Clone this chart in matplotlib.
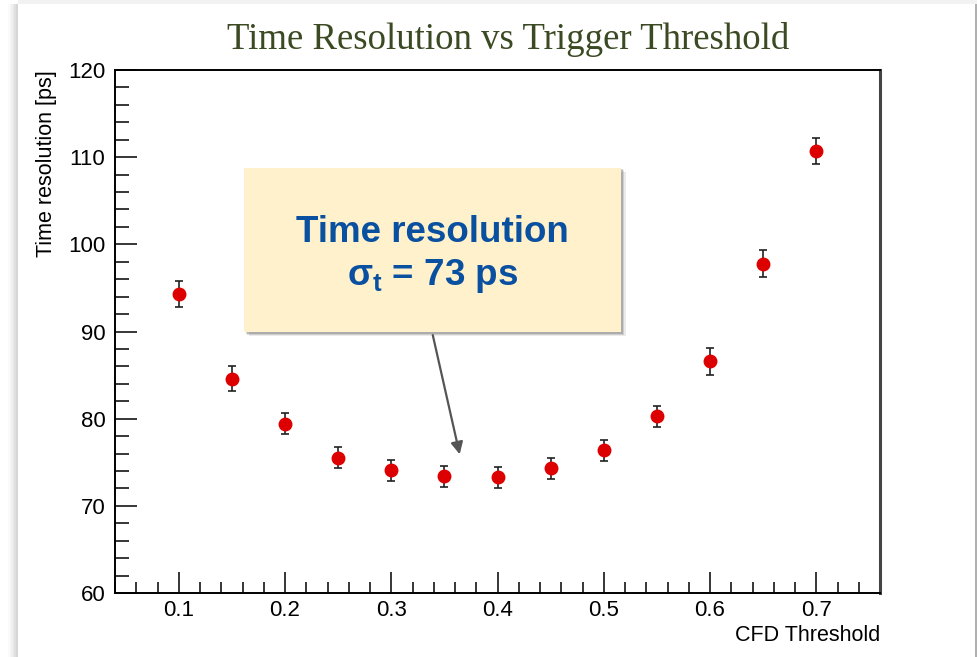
import matplotlib
matplotlib.use("Agg")
import matplotlib.pyplot as plt
from matplotlib.patches import Rectangle
from matplotlib.ticker import MultipleLocator

# CFD threshold scan: time resolution with statistical errors
threshold = [0.10, 0.15, 0.20, 0.25, 0.30, 0.35, 0.40, 0.45, 0.50, 0.55, 0.60, 0.65, 0.70]
resolution = [94.3, 84.6, 79.4, 75.5, 74.1, 73.4, 73.3, 74.3, 76.4, 80.3, 86.6, 97.8, 110.7]
res_err = [1.45, 1.4, 1.2, 1.2, 1.2, 1.2, 1.2, 1.2, 1.2, 1.2, 1.55, 1.5, 1.5]

plt.rcParams['font.family'] = ['Liberation Sans', 'DejaVu Sans']
plt.rcParams['mathtext.fontset'] = 'custom'
plt.rcParams['mathtext.rm'] = 'Liberation Sans:bold'
plt.rcParams['mathtext.it'] = 'Liberation Sans:bold'
plt.rcParams['mathtext.bf'] = 'Liberation Sans:bold'

fig = plt.figure(figsize=(9.78, 6.57), dpi=100)
fig.patch.set_facecolor('white')

# slide page edge with a soft shadow on the left
for i, a in enumerate([0.02, 0.04, 0.06, 0.09, 0.12, 0.16]):
    fig.patches.append(Rectangle(((8 + i * 1.6) / 978, 0), 1.6 / 978, 1 - 4 / 657,
                                 transform=fig.transFigure, color='black', alpha=a, lw=0))
fig.patches.append(Rectangle((18 / 978, 1 - 4 / 657), 960 / 978, 4 / 657,
                             transform=fig.transFigure, color='#f2f2f2', lw=0))
fig.patches.append(Rectangle((975.5 / 978, 0), 1.5 / 978, 1 - 4 / 657,
                             transform=fig.transFigure, color='#b0b0b0', lw=0))

ax = fig.add_axes([115 / 978, 64 / 657, 765 / 978, 523 / 657])

ax.errorbar(threshold, resolution, yerr=res_err, fmt='o', color='#dd0000',
            markersize=9, ecolor='#222222', elinewidth=1.2, capsize=3, capthick=1.2,
            zorder=3)

ax.set_xlim(0.04, 0.76)
ax.set_ylim(60, 120)
ax.xaxis.set_major_locator(MultipleLocator(0.1))
ax.xaxis.set_minor_locator(MultipleLocator(0.02))
ax.yaxis.set_major_locator(MultipleLocator(10))
ax.yaxis.set_minor_locator(MultipleLocator(2))
ax.tick_params(axis='x', which='major', direction='in', length=15, width=1.1, labelsize=16, pad=5)
ax.tick_params(axis='x', which='minor', direction='in', length=8, width=1.1)
ax.tick_params(axis='y', which='major', direction='in', length=16, width=1.1, labelsize=16, pad=7)
ax.tick_params(axis='y', which='minor', direction='in', length=10, width=1.1)
ax.xaxis.set_major_formatter(plt.FuncFormatter(lambda v, p: f"{v:.1f}"))
for s in ax.spines.values():
    s.set_linewidth(1.4)
ax.spines['right'].set_color('#444444')
ax.spines['right'].set_linewidth(2.2)

ax.set_xlabel('CFD Threshold', loc='right', fontsize=15.5, labelpad=3)
ax.set_ylabel('Time resolution [ps]', loc='top', fontsize=15.5, labelpad=8)

fig.text(0.52, 0.940, 'Time Resolution vs Trigger Threshold', ha='center', va='center',
         fontsize=26.5, family='Liberation Serif', color='#3b4a22')

# callout box with drop shadow
bx0, bx1, by0, by1 = 0.161, 0.516, 89.9, 108.8
for off, a in [(0.005, 0.08), (0.0035, 0.12), (0.002, 0.16)]:
    ax.add_patch(Rectangle((bx0 + off, by0 - off * 90), bx1 - bx0, by1 - by0,
                           facecolor='black', alpha=a, lw=0, zorder=4))
ax.add_patch(Rectangle((bx0, by0), bx1 - bx0, by1 - by0, facecolor='#fff1cc',
                       edgecolor='none', zorder=5))
ax.text((bx0 + bx1) / 2, 101.4, 'Time resolution', ha='center', va='center',
        fontsize=26.5, fontweight='bold', color='#0a50a0', zorder=6)
ax.text((bx0 + bx1) / 2, 96.4, r'$\sigma_t$ = 73 ps', ha='center', va='center',
        fontsize=26.5, fontweight='bold', color='#0a50a0', zorder=6)

ax.annotate('', xy=(0.365, 75.6), xytext=(0.3385, by0),
            arrowprops=dict(arrowstyle='-|>', color='#555555', lw=1.6, mutation_scale=18),
            zorder=6)

fig.savefig('out.png', dpi=100)
